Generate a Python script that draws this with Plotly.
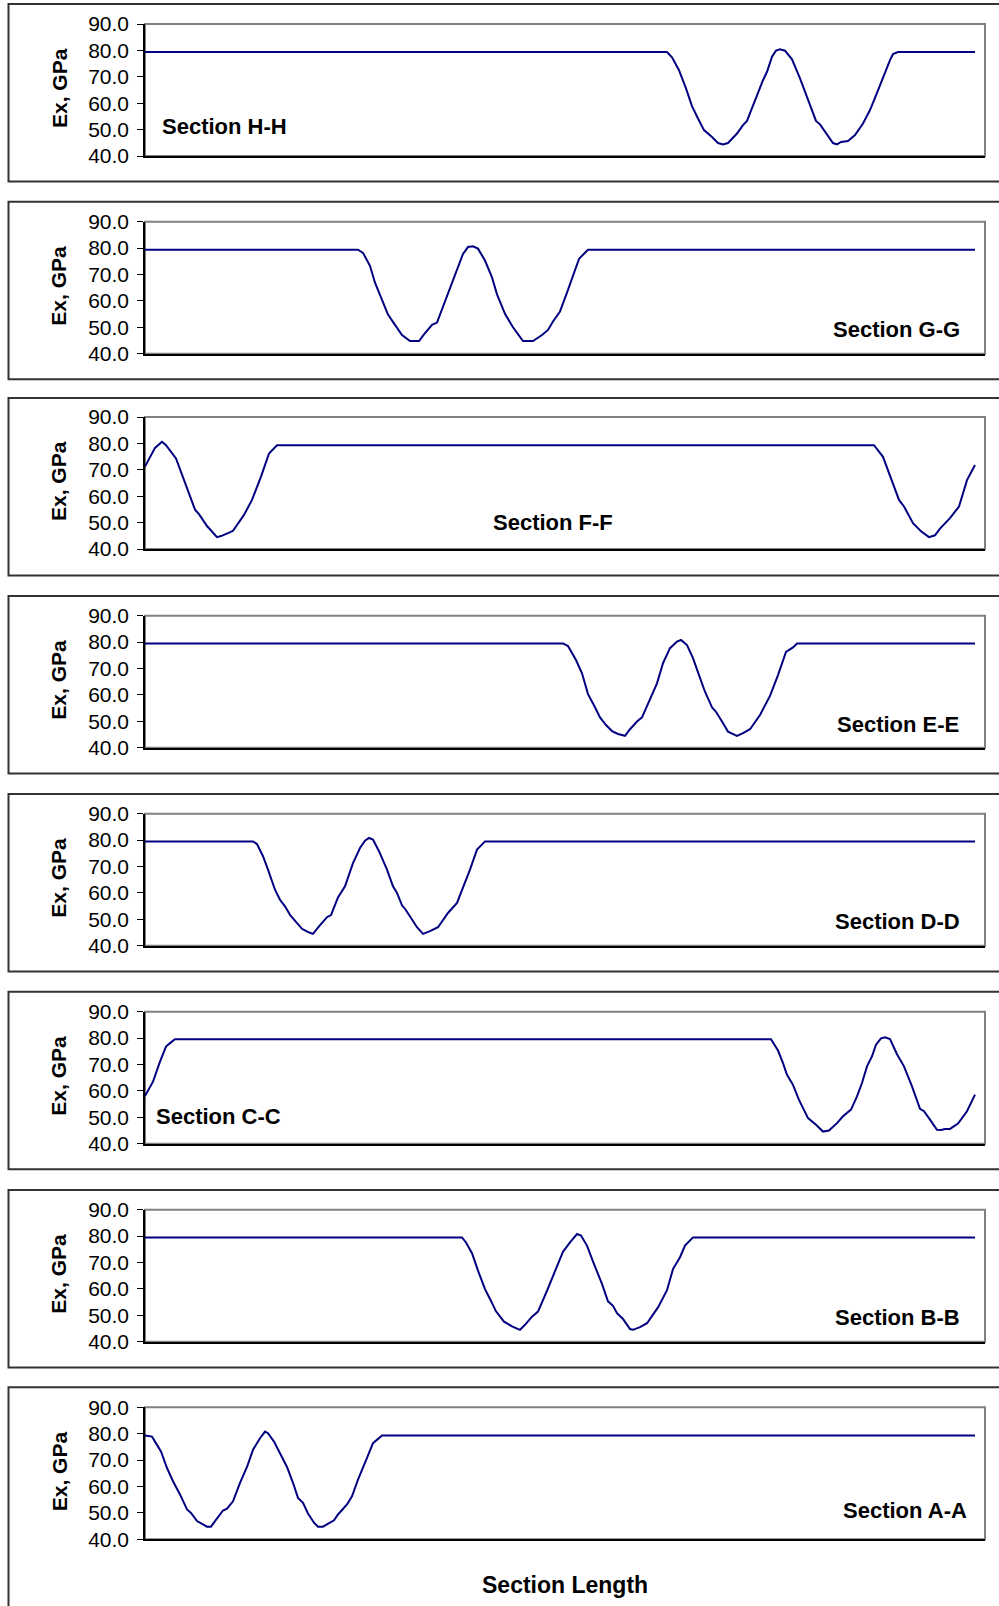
import plotly.graph_objects as go

# ---------------- data (position along section, Ex in GPa) ----------------
sections = ["Section H-H", "Section G-G", "Section F-F", "Section E-E",
            "Section D-D", "Section C-C", "Section B-B", "Section A-A"]

hh_x = [0, 522, 527, 534, 541, 547, 553, 559, 567, 573, 578, 583, 592, 598, 602, 608, 613, 618, 622, 627,
        631, 635, 640, 647, 655, 663, 671, 675, 682, 688, 692, 696, 703, 710, 718, 725, 731, 738, 745, 748, 753, 830]
hh_y = [79.4, 79.4, 77.4, 72.5, 65.6, 58.9, 54.2, 49.8, 47.2, 44.9, 44.4, 44.9, 48.5, 51.7, 53.3, 58.9, 64.3, 68.7, 71.9, 77.6,
        79.9, 80.4, 79.9, 76.6, 69.4, 61.1, 53.3, 52.0, 48.2, 44.9, 44.4, 45.3, 45.7, 47.9, 52.3, 57.4, 63.0, 70.0, 76.3, 78.6, 79.4, 79.4]

gg_x = [0, 213, 218, 225, 230, 237, 243, 250, 257, 265, 274, 279, 287, 292, 297, 302, 308, 313, 318, 323,
        328, 333, 340, 347, 352, 360, 368, 378, 388, 397, 403, 408, 415, 422, 428, 434, 438, 443, 830]
gg_y = [79.4, 79.4, 78.2, 73.3, 66.9, 60.5, 54.8, 50.9, 47.1, 44.8, 44.8, 47.3, 50.9, 51.8, 56.7, 61.8, 68.2, 73.0, 77.8, 80.4,
        80.7, 79.8, 75.3, 68.9, 62.5, 55.1, 50.0, 44.8, 44.8, 47.1, 49.0, 52.2, 56.0, 63.1, 69.5, 75.9, 77.5, 79.4, 79.4]

ff_x = [0, 5, 10, 17, 21, 31, 39, 50, 54, 62, 72, 76, 83, 88, 99, 107, 116, 124, 132, 729,
        738, 746, 754, 759, 768, 776, 784, 790, 795, 805, 814, 822, 830]
ff_y = [71.2, 74.9, 78.3, 80.6, 79.3, 74.3, 66.1, 54.9, 53.2, 48.7, 44.5, 44.9, 46.0, 46.9, 52.9, 58.6, 67.4, 76.2, 79.3, 79.3,
        74.9, 66.8, 58.6, 56.1, 49.8, 46.7, 44.5, 45.2, 47.7, 51.7, 56.1, 66.1, 71.8]

ee_x = [0, 418, 423, 431, 437, 443, 450, 455, 461, 467, 473, 480, 485, 492, 497, 503, 512, 518, 525, 532,
        536, 542, 548, 554, 560, 567, 571, 577, 583, 592, 598, 605, 615, 625, 633, 641, 648, 652, 830]
ee_y = [79.5, 79.5, 78.5, 73.2, 68.2, 60.3, 55.3, 51.5, 48.6, 46.3, 45.2, 44.5, 47.0, 49.9, 51.5, 56.8, 64.4, 72.0, 77.7, 80.2,
        80.8, 78.9, 73.9, 67.5, 61.2, 55.3, 53.6, 49.9, 46.1, 44.5, 45.5, 47.0, 52.4, 59.6, 67.5, 76.3, 78.0, 79.5, 79.5]

dd_x = [0, 108, 112, 118, 123, 130, 135, 140, 145, 152, 157, 163, 168, 174, 182, 186, 193, 200, 208, 215,
        220, 224, 228, 234, 242, 248, 252, 257, 260, 267, 272, 278, 285, 293, 303, 312, 318, 325, 332, 340, 830]
dd_y = [79.5, 79.5, 78.5, 73.9, 68.8, 61.2, 57.4, 54.9, 51.7, 48.6, 46.4, 45.2, 44.5, 47.3, 50.8, 51.6, 58.3, 62.5, 71.3, 77.0,
        79.8, 80.8, 80.2, 75.8, 68.8, 62.5, 60.0, 55.3, 54.0, 49.9, 47.0, 44.5, 45.5, 47.0, 52.4, 56.2, 61.9, 68.8, 76.4, 79.5, 79.5]

cc_x = [0, 8, 15, 21, 25, 30, 626, 633, 638, 642, 648, 654, 663, 671, 678, 684, 692, 698, 706, 712,
        717, 722, 727, 731, 736, 740, 745, 752, 759, 767, 775, 779, 785, 792, 796, 800, 805, 813, 822, 830]
cc_y = [58.1, 63.5, 71.1, 76.8, 78.1, 79.6, 79.6, 75.3, 70.5, 66.1, 62.3, 56.6, 49.7, 47.2, 44.6, 45.0, 47.8, 50.4, 52.9, 57.9,
        63.0, 69.3, 73.1, 77.5, 79.9, 80.3, 79.6, 73.9, 69.3, 61.7, 53.2, 52.3, 49.1, 45.3, 45.2, 45.6, 45.6, 47.6, 52.3, 58.6]

bb_x = [0, 317, 321, 327, 333, 340, 345, 351, 359, 367, 375, 380, 387, 393, 402, 410, 418, 425, 432, 436,
        442, 449, 457, 463, 468, 472, 478, 485, 488, 495, 502, 513, 522, 528, 535, 540, 548, 830]
bb_y = [79.5, 79.5, 77.6, 73.5, 66.9, 59.9, 56.2, 51.5, 47.6, 45.8, 44.5, 46.4, 49.5, 51.4, 59.3, 66.9, 74.1, 77.6, 80.8, 80.2,
        76.4, 69.4, 61.9, 55.3, 53.6, 50.8, 48.6, 44.8, 44.5, 45.5, 47.0, 53.0, 59.5, 67.5, 72.0, 76.4, 79.5, 79.5]

aa_x = [0, 7, 10, 16, 22, 28, 35, 42, 46, 52, 62, 66, 70, 78, 82, 88, 95, 102, 108, 115,
        120, 123, 129, 137, 142, 148, 153, 158, 163, 169, 173, 178, 183, 189, 193, 202, 207, 213, 222, 228, 237, 830]
aa_y = [79.3, 78.9, 77.0, 73.3, 67.0, 62.0, 57.0, 51.3, 50.0, 46.9, 44.8, 44.8, 46.9, 50.9, 51.6, 54.4, 61.4, 67.4, 73.9, 78.3,
        80.8, 80.2, 77.0, 70.8, 67.4, 61.4, 55.7, 53.8, 49.8, 46.3, 44.8, 44.8, 45.9, 47.2, 49.4, 53.2, 56.3, 62.6, 70.8, 76.4, 79.3, 79.3]

series_x = [hh_x, gg_x, ff_x, ee_x, dd_x, cc_x, bb_x, aa_x]
series_y = [hh_y, gg_y, ff_y, ee_y, dd_y, cc_y, bb_y, aa_y]

y_ticks = [40, 50, 60, 70, 80, 90]
y_title = "Ex, GPa"
x_title = "Section Length"

# ---------------- layout geometry (pixels) ----------------
W, H = 999, 1606
FONT = "Arial, Liberation Sans, sans-serif"
plot_left, plot_right = 145, 985
plot_tops = [24, 221.7, 417, 615.7, 813.7, 1011.7, 1209.7, 1407.3]
plot_h = 132
frame_tops = [4, 201.7, 398, 596, 794, 991.7, 1190, 1387.3]
frame_h = 177.5
label_pos = [(224, 127), (896, 329), (553, 522.5), (898, 724.4),
             (897.5, 922), (218, 1116.5), (897.5, 1317.6), (905, 1510)]


def px(x):
    return x / W


def py(y):
    return 1 - y / H


fig = go.Figure()
shapes = []
annotations = []

for i in range(8):
    n = "" if i == 0 else str(i + 1)
    fig.add_trace(go.Scatter(x=series_x[i], y=series_y[i], mode="lines",
                             line=dict(color="#000080", width=2),
                             xaxis="x" + n, yaxis="y" + n, showlegend=False,
                             hoverinfo="skip"))
    top = plot_tops[i]
    bot = top + plot_h
    fig.layout["xaxis" + n] = dict(
        domain=[px(plot_left), px(plot_right)], range=[0, 840],
        anchor="y" + n, showline=True, linecolor="#000000", linewidth=1.5,
        showticklabels=False, ticks="", showgrid=False, zeroline=False,
        automargin=False, fixedrange=True)
    fig.layout["yaxis" + n] = dict(
        domain=[py(bot), py(top)], range=[40, 90], anchor="x" + n,
        tickvals=y_ticks, tickformat=".1f", ticks="outside", ticklen=6,
        tickcolor="#000000", tickwidth=1, showline=True, linecolor="#000000",
        linewidth=1.5, showgrid=False, zeroline=False, automargin=False,
        ticklabelstandoff=4,
        tickfont=dict(family=FONT, size=21, color="#000000"), fixedrange=True)
    # gray plot-area border
    shapes.append(dict(type="rect", xref="paper", yref="paper",
                       x0=px(plot_left), x1=px(plot_right), y0=py(bot), y1=py(top),
                       line=dict(color="#808080", width=2), layer="below"))
    # outer chart frame
    ft = frame_tops[i]
    fb = ft + frame_h if i < 7 else H + 20
    shapes.append(dict(type="rect", xref="paper", yref="paper",
                       x0=px(8.5), x1=px(W + 20), y0=py(fb), y1=py(ft),
                       line=dict(color="#333333", width=2)))
    annotations.append(dict(text="<b>" + y_title + "</b>", xref="paper", yref="paper",
                            x=px(59), y=py(top + plot_h / 2 - 2), textangle=-90,
                            showarrow=False, xanchor="center", yanchor="middle",
                            font=dict(family=FONT, size=21, color="#000000")))
    lx, ly = label_pos[i]
    annotations.append(dict(text="<b>" + sections[i] + "</b>", xref="paper", yref="paper",
                            x=px(lx), y=py(ly), showarrow=False,
                            xanchor="center", yanchor="middle",
                            font=dict(family=FONT, size=22, color="#000000")))

annotations.append(dict(text="<b>" + x_title + "</b>", xref="paper", yref="paper",
                        x=px(565), y=py(1585), showarrow=False,
                        xanchor="center", yanchor="middle",
                        font=dict(family=FONT, size=23, color="#000000")))

fig.update_layout(width=W, height=H, margin=dict(l=0, r=0, t=0, b=0, pad=0, autoexpand=False),
                  paper_bgcolor="#ffffff", plot_bgcolor="#ffffff",
                  shapes=shapes, annotations=annotations, showlegend=False)

fig.write_html("out.html", config={"displayModeBar": False})
